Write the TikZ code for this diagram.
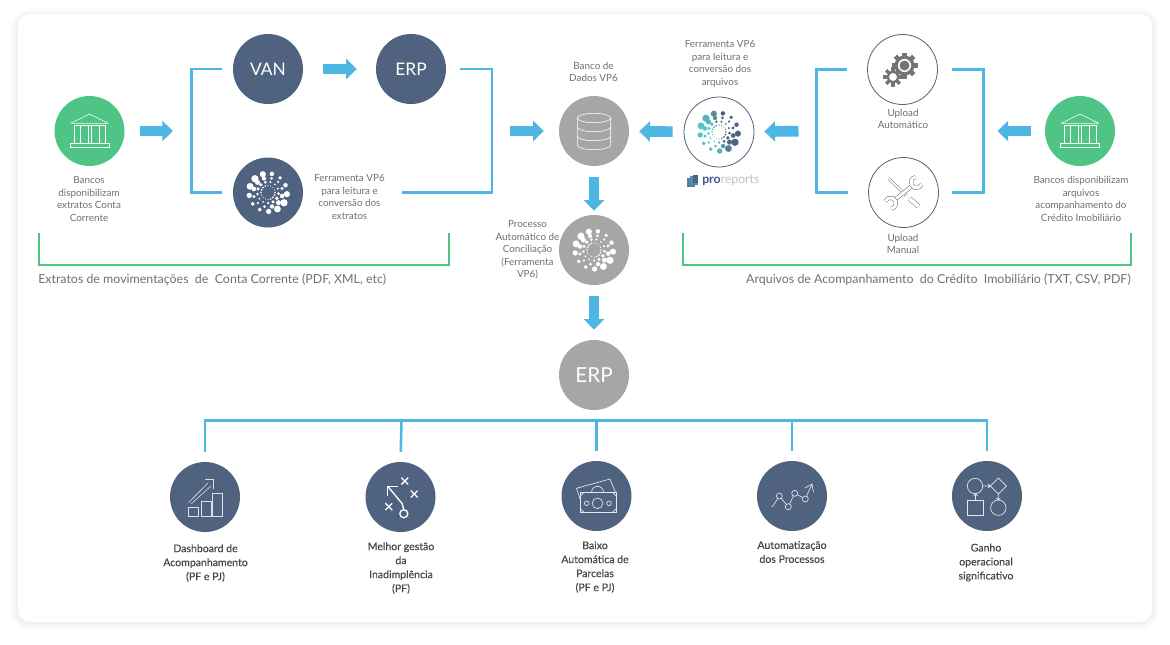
\documentclass[tikz,border=0pt]{standalone}
\usepackage{fontspec}
\setmainfont{Lato}
\newfontfamily\labelBold[FakeBold=0.3]{Lato}
\usetikzlibrary{arrows.meta}
\usetikzlibrary{positioning}
\definecolor{navyFill}{HTML}{4F627F}
\definecolor{greenFill}{HTML}{4EC585}
\definecolor{greyFill}{HTML}{A6A6A6}
\definecolor{blueLine}{HTML}{4DB6E2}
\definecolor{labelGrey}{HTML}{707070}
\definecolor{labelDark}{HTML}{474747}
\definecolor{iconGrey}{HTML}{747474}
\definecolor{tealDot}{HTML}{55C3C8}
\tikzset{
    bankIcon/.pic={
        \draw[white, line width=0.45pt, line join=round] (-18.7,-7.7) -- (0,-17) -- (18.7,-7.7) -- cycle;
        \draw[white, line width=0.45pt] (-15.7,-6) rectangle (16,12);
        \foreach \colX in {-9.5,-1.5,1.5,9.5} \draw[white, line width=0.45pt] (\colX,-6) -- (\colX,12);
        \draw[white, line width=0.45pt] (-19.7,12.5) rectangle (19.7,16.3);
    },
    dbIcon/.pic={
        \draw[white, line width=0.45pt] (-16.7,-13) arc[start angle=180, end angle=-180, x radius=16.7, y radius=4.7];
        \draw[white, line width=0.45pt] (-16.7,-13) -- (-16.7,14) arc[start angle=180, end angle=360, x radius=16.7, y radius=-4.7] -- (16.7,-13);
        \draw[white, line width=0.45pt] (-16.7,-4) arc[start angle=180, end angle=360, x radius=16.7, y radius=-4.7];
        \draw[white, line width=0.45pt] (-16.7,5) arc[start angle=180, end angle=360, x radius=16.7, y radius=-4.7];
    },
    gearIcon/.pic={
        \foreach \toothA in {0,45,...,315} \fill[iconGrey, shift={(2,-4)}, rotate=\toothA] (-2.3,-13) rectangle (2.3,-8);
        \fill[iconGrey] (2,-4) circle[radius=10];
        \fill[white] (2,-4) circle[radius=6.6];
        \fill[iconGrey] (2,-4) circle[radius=5];
        \foreach \toothB in {0,45,...,315} \fill[iconGrey, shift={(-9.5,7.5)}, rotate=\toothB] (-1.7,-9.6) rectangle (1.7,-5);
        \filldraw[draw=iconGrey, fill=white, line width=1.7pt] (-9.5,7.5) circle[radius=5.3];
    },
    wrenchIcon/.pic={
        \draw[draw=iconGrey, double=white, line width=0.4pt, double distance=1.3pt] (-15,-14) -- (3,3);
        \draw[draw=iconGrey, double=white, line width=0.4pt, double distance=2.8pt] (6,6) -- (15,14);
        \draw[draw=iconGrey, double=white, line width=0.4pt, double distance=2.2pt] (-9,7.5) -- (9,-7);
        \draw[draw=iconGrey, double=white, line width=0.4pt, double distance=2.2pt] ([shift={(20:5.5)}]13,-10) arc[start angle=20, end angle=260, radius=5.5];
        \draw[draw=iconGrey, double=white, line width=0.4pt, double distance=2.2pt] ([shift={(200:5.5)}]-13,10.7) arc[start angle=200, end angle=440, radius=5.5];
    },
    chartIcon/.pic={
        \draw[white!80!navyFill, line width=0.6pt] (-16.7,10.7) rectangle (-6.7,19);
        \draw[white!80!navyFill, line width=0.6pt] (-4,4) rectangle (6,19);
        \draw[white!80!navyFill, line width=0.6pt] (7.7,-3.7) rectangle (17.7,19);
        \draw[white!80!navyFill, line width=0.45pt] (-16.5,5.7) -- (3,-14) (-14,7) -- (6,-11);
        \draw[white!80!navyFill, line width=0.5pt] (0,-17.7) -- (8.3,-17.7) -- (8.3,-8);
    },
    playIcon/.pic={
        \foreach \crossX/\crossY in {4.3/-16,13.7/-3,-11.7/9.7} {
            \draw[white, line width=1pt] (\crossX-3.4,\crossY-3.4) -- (\crossX+3.4,\crossY+3.4);
            \draw[white, line width=1pt] (\crossX-3.4,\crossY+3.4) -- (\crossX+3.4,\crossY-3.4);
        }
        \draw[white, line width=1pt] (3.3,16.7) circle[radius=4];
        \draw[white, line width=1pt] (3.3,12.7) -- (1.7,6.7) -- (-12.7,-10.7);
        \draw[white, line width=1pt] (-12.7,-1) -- (-12.7,-10.7) -- (-3,-10.7);
    },
    moneyIcon/.pic={
        \draw[white!85!navyFill, line width=0.5pt] (-16.5,3) -- (-20,-7.7) -- (13.5,-17) -- (19,-3.7);
        \draw[white!85!navyFill, line width=0.5pt] (-5,-3.7) arc[start angle=180, end angle=360, radius=6];
        \draw[white!85!navyFill, line width=0.5pt] (-16.5,-3.7) rectangle (20,16.3);
        \draw[white!85!navyFill, line width=0.5pt] (1,7.3) circle[radius=5.3];
        \draw[white!85!navyFill, line width=0.5pt] (-9.8,7.3) circle[radius=2.3] (12.5,7.3) circle[radius=2.3];
        \draw[white!85!navyFill, line width=0.5pt] (-16.5,0.3) -- (-12.5,-3.7) (16,-3.7) -- (20,0.3) (-16.5,12.3) -- (-12.5,16.3) (16,16.3) -- (20,12.3);
    },
    trendIcon/.pic={
        \draw[white!85!navyFill, line width=0.5pt] (-20,11.3) -- (-12.7,0) -- (-3.7,10.7) -- (2.7,-2.7) -- (13.3,3) -- (20,-12);
        \draw[white!85!navyFill, line width=0.5pt] (13,-8) -- (20,-12) -- (21.5,-4);
        \foreach \trendX/\trendY in {-12.7/0,-3.7/10.7,2.7/-2.7,13.3/3}
            \filldraw[draw=white!85!navyFill, fill=navyFill, line width=0.5pt] (\trendX,\trendY) circle[radius=3];
    },
    flowIcon/.pic={
        \draw[white!85!navyFill, line width=0.5pt] (-12,-10) circle[radius=7.7];
        \draw[white!85!navyFill, line width=0.5pt] (11.3,-18) -- (19.3,-10) -- (11.3,-2) -- (3.3,-10) -- cycle;
        \draw[white!85!navyFill, line width=0.5pt] (-19.3,4.7) rectangle (-3.7,19.3);
        \draw[white!85!navyFill, line width=0.5pt] (11.3,11.7) circle[radius=7.7];
        \draw[white!85!navyFill, line width=0.5pt] (-4.3,-10) -- (3.3,-10) (1,-12) -- (3.3,-10) -- (1,-8);
        \draw[white!85!navyFill, line width=0.5pt] (-11.5,4.7) -- (-11.5,-2.3) (-13.5,0) -- (-11.5,-2.3) -- (-9.5,0);
        \draw[white!85!navyFill, line width=0.5pt] (11.3,-2) -- (11.3,4) (9.3,2) -- (11.3,4) -- (13.3,2);
    }
}
% ring logo: centre, second colour, first colour
\newcommand{\dotRings}[3]{
    \begin{scope}[shift={#1}]
    \foreach \ringR/\ringN/\ringS/\ringO in {7/16/0.85/0,10.6/13/1.5/6,14.6/12/2.1/14,19/13/3/5} {
        \pgfmathtruncatemacro{\ringLast}{\ringN-1}
        \foreach \dotI in {0,...,\ringLast} {
            \pgfmathsetmacro{\dotA}{\ringO+\dotI*360/\ringN}
            \pgfmathsetmacro{\dotS}{\ringS*(0.92+0.3*sin(2*\dotA+10))}
            \pgfmathtruncatemacro{\dotM}{max(0,min(100,50+90*cos(\dotA-160)))}
            \fill[#3!\dotM!#2] (\dotA:\ringR) circle[radius=\dotS];
        }
    }
    \end{scope}
}
\begin{document}
\begin{tikzpicture}[
    x=0.75pt, y=-0.75pt,
    roundIcon/.style={circle, minimum size=52.5pt, inner sep=0pt, text=white},
    navyIcon/.style={roundIcon, fill=navyFill},
    greenIcon/.style={roundIcon, fill=greenFill},
    greyIcon/.style={roundIcon, fill=greyFill},
    ringIcon/.style={roundIcon, draw=navyFill, line width=0.6pt, fill=white},
    smallLabel/.style={font=\fontsize{7.4}{9.4}\selectfont, text=labelGrey, align=center, inner sep=0pt},
    boldLabel/.style={font=\labelBold\fontsize{7.9}{10.5}\selectfont, text=labelDark, align=center, inner sep=0pt},
    groupLabel/.style={font=\fontsize{9.3}{11}\selectfont, text=labelGrey, inner sep=0pt},
    linkLine/.style={draw=blueLine, line width=1.9pt},
    groupLine/.style={draw=greenFill, line width=1.9pt},
    flowArrow/.style={draw=blueLine, line width=8pt, -{Triangle[length=8pt, width=15pt]}}
]
\useasboundingbox (0,0) rectangle (1170,644);
\fill[white] (0,0) rectangle (1170,644);
\foreach \shadowW in {14,11,8,5,2}
    \draw[black, opacity=0.012, line width=\shadowW*0.75pt, rounded corners=9pt] (18,16) rectangle (1152,623);
\fill[white, rounded corners=9pt] (18,14) rectangle (1152,622);

% top row
\node[greenIcon] (bankLeft) at (89.5,131) {};
\node[navyIcon, font=\fontsize{13}{13}\selectfont] (van) at (268,69) {VAN};
\node[navyIcon, font=\fontsize{13}{13}\selectfont] (erpTop) at (411,69) {ERP};
\node[navyIcon] (toolLeft) at (268,192.5) {};
\node[greyIcon] (dataBase) at (594,131) {};
\node[greyIcon] (matching) at (594,250) {};
\node[greyIcon, font=\fontsize{15.5}{15.5}\selectfont] (erpMain) at (594,375) {ERP};
\node[ringIcon] (toolRight) at (719,132) {};
\node[ringIcon] (uploadAuto) at (902.5,69.5) {};
\node[ringIcon] (uploadManual) at (903.5,192.5) {};
\node[greenIcon] (bankRight) at (1080,131) {};

% bottom row
\node[navyIcon] (dashboard) at (205,497) {};
\node[navyIcon] (default) at (400.5,497) {};
\node[navyIcon] (payment) at (596.5,496) {};
\node[navyIcon] (automation) at (792,496) {};
\node[navyIcon] (gain) at (987,496) {};

\pic at (bankLeft) {bankIcon};
\pic at (bankRight) {bankIcon};
\pic at (dataBase) {dbIcon};
\pic at (uploadAuto) {gearIcon};
\pic at (uploadManual) {wrenchIcon};
\pic at (dashboard) {chartIcon};
\pic at (default) {playIcon};
\pic at (payment) {moneyIcon};
\pic at (automation) {trendIcon};
\pic at (gain) {flowIcon};
\dotRings{(268,192.5)}{white}{white}
\dotRings{(594,250)}{white}{white}
\dotRings{(719,132)}{navyFill}{tealDot}

% labels
\node[smallLabel] (bankLeftText) at (89,199) {Bancos\\disponibilizam\\extratos Conta\\Corrente};
\node[smallLabel] (toolLeftText) at (349.5,197) {Ferramenta VP6\\para leitura e\\conversão dos\\extratos};
\node[smallLabel] (dataBaseText) at (593.5,72) {Banco de\\Dados VP6};
\node[smallLabel] (toolRightText) at (720,64) {Ferramenta VP6\\para leitura e\\conversão dos\\arquivos};
\node[smallLabel] (matchingText) at (527.5,250) {Processo\\Automático de\\Conciliação\\(Ferramenta\\VP6)};
\node[smallLabel] (uploadAutoText) at (903,119) {Upload\\Automático};
\node[smallLabel] (uploadManualText) at (903,244) {Upload\\Manual};
\node[smallLabel] (bankRightText) at (1081,199) {Bancos disponibilizam\\arquivos\\acompanhamento do\\Crédito Imobiliário};
\node[groupLabel, anchor=west] (leftGroupText) at (38,280) {Extratos de movimentações~ de~ Conta Corrente (PDF, XML, etc)};
\node[groupLabel, anchor=east] (rightGroupText) at (1131,280) {Arquivos de Acompanhamento~ do Crédito~ Imobiliário (TXT, CSV, PDF)};
\node[boldLabel] (dashboardText) at (205.5,563) {Dashboard de\\Acompanhamento\\(PF e PJ)};
\node[boldLabel] (defaultText) at (401,568) {Melhor gestão\\da\\Inadimplência\\(PF)};
\node[boldLabel] (paymentText) at (595,567) {Baixo\\Automática de\\Parcelas\\(PF e PJ)};
\node[boldLabel] (automationText) at (792,552) {Automatização\\dos Processos};
\node[boldLabel] (gainText) at (986,562.5) {Ganho\\operacional\\significativo};
\node[anchor=west, inner sep=0pt, font=\fontsize{9.2}{9.2}\selectfont, text=greyFill!70] (brandText) at (702,180) {\textcolor{navyFill!85!blue}{\textbf{pro}}reports};
\fill[navyFill!70!tealDot] (687,178) rectangle (695,187);
\fill[navyFill!50!blueLine] (690,176) rectangle (698,185);
\fill[navyFill] (693,175) rectangle (698,183);

% brackets
\coordinate (joinLeft) at (191.5,131);
\coordinate (joinMid) at (492,131);
\coordinate (joinUpA) at (816.5,131);
\coordinate (joinUpB) at (983.5,131);
\coordinate (treeRoot) at (401.5,420.5);
\draw[linkLine, shorten <=8.25pt, shorten >=8.25pt] (van.west) -| (joinLeft) |- (toolLeft.west);
\draw[linkLine, shorten <=10.5pt, shorten >=74.25pt] (erpTop.east) -| (joinMid) |- (toolLeft.east);
\draw[linkLine, shorten <=15pt, shorten >=15pt] (uploadAuto.west) -| (joinUpA) |- (uploadManual.west);
\draw[linkLine, shorten <=10.5pt, shorten >=9.5pt] (uploadAuto.east) -| (joinUpB) |- (uploadManual.east);
\coordinate (leftTopA) at (39,233);
\coordinate (leftTopB) at (449,233);
\coordinate (rightTopA) at (683,233);
\coordinate (rightTopB) at (1131,233);
\draw[groupLine] (leftTopA) -- (39,265) -- (449,265) -- (leftTopB);
\draw[groupLine] (rightTopA) -- (683,265) -- (1131,265) -- (rightTopB);

% block arrows
\draw[flowArrow, shorten <=11.6pt, shorten >=13.9pt] (bankLeft) -- (joinLeft);
\draw[flowArrow, shorten <=15pt, shorten >=14.2pt] (van) -- (erpTop);
\draw[flowArrow, shorten <=13.5pt, shorten >=11.2pt] (joinMid) -- (dataBase);
\draw[flowArrow, shorten <=8.2pt, shorten >=7.5pt] (toolRight) -- (dataBase);
\draw[flowArrow, shorten <=13.5pt, shorten >=7.5pt] (joinUpA) -- (toolRight);
\draw[flowArrow, shorten <=10.5pt, shorten >=10.5pt] (bankRight) -- (joinUpB);
\draw[flowArrow, shorten <=8.2pt, shorten >=3pt] (dataBase) -- (matching);
\draw[flowArrow, shorten <=8.2pt, shorten >=7.5pt] (matching) -- (erpMain);

% tree
\draw[linkLine, shorten >=7.5pt] (treeRoot) -| (dashboard.north);
\draw[linkLine, shorten >=7.5pt] (treeRoot) -- (default.north);
\draw[linkLine, shorten >=7.5pt] (treeRoot) -| (payment.north);
\draw[linkLine, shorten >=7.5pt] (treeRoot) -| (automation.north);
\draw[linkLine, shorten >=7.5pt] (treeRoot) -| (gain.north);
\end{tikzpicture}
\end{document}
